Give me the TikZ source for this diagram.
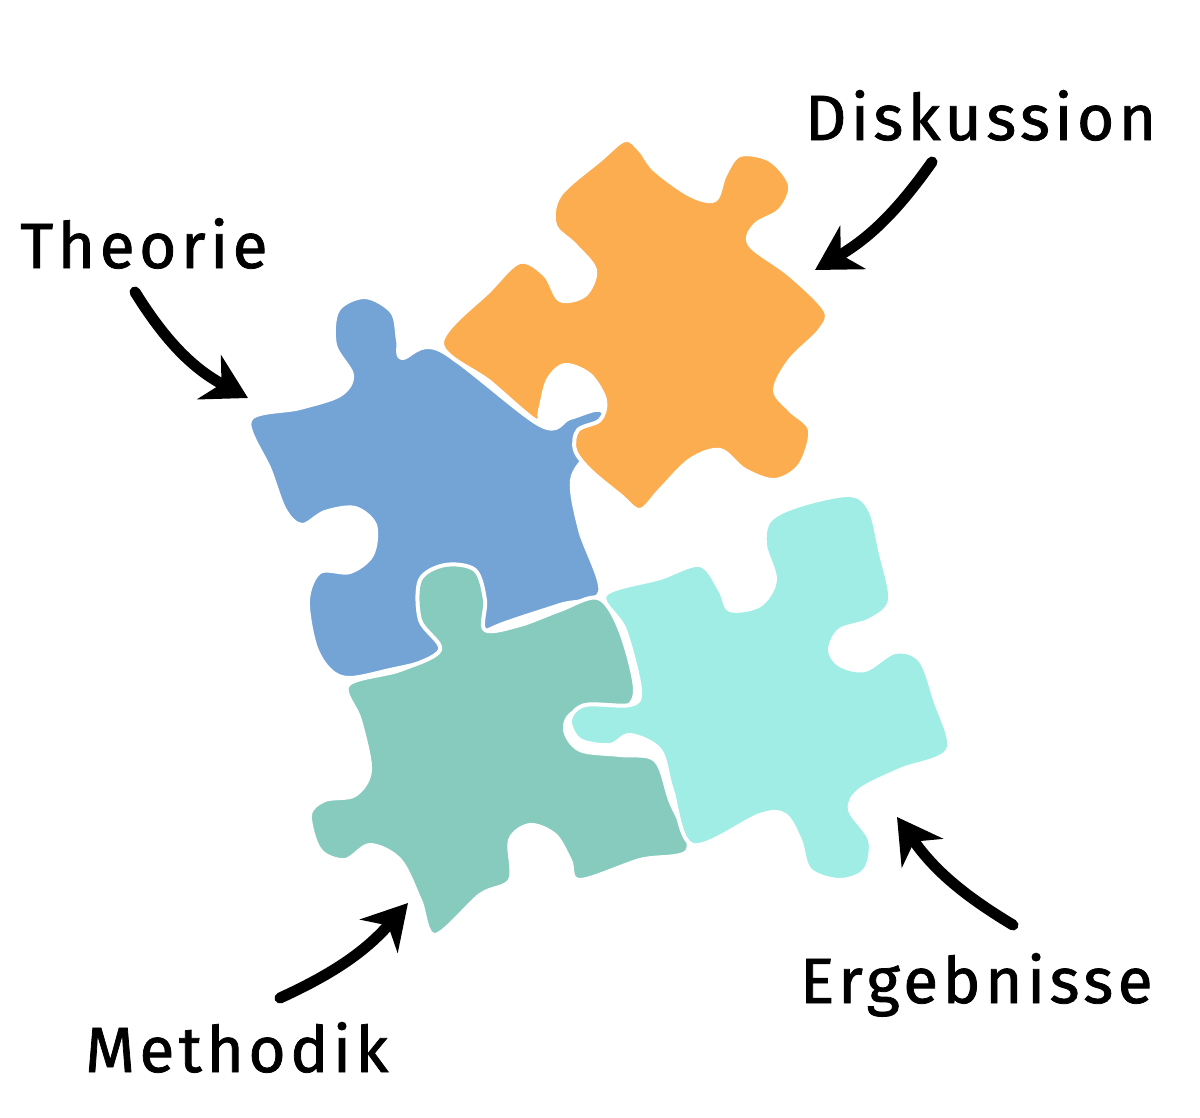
\documentclass[tikz,border=0pt]{standalone}
\usepackage{fontspec}
\setmainfont{Fira Sans}[LetterSpace=7,FakeBold=1.2]
\usetikzlibrary{arrows.meta}
\definecolor{orangepiece}{HTML}{FBAD4F}
\definecolor{bluepiece}{HTML}{74A3D6}
\definecolor{greenpiece}{HTML}{87CBBF}
\definecolor{cyanpiece}{HTML}{A0EDE6}
\begin{document}
\begin{tikzpicture}[x=1pt,y=-1pt,
    piece/.style={draw=white, line width=4pt, line join=round},
    pointer/.style={line width=11pt, line cap=round, -{Stealth[length=44pt,width=50pt,inset=14pt]}},
    label/.style={font=\fontsize{64}{64}\selectfont, inner sep=0pt, anchor=base west}]
    \useasboundingbox (0,0) rectangle (1200,1117);

    % puzzle pieces
    \fill[piece, fill=bluepiece] plot[smooth cycle, tension=0.55] coordinates {
        (250,420) (300,408) (340,395) (352,375) (335,345) (338,310) (365,297) (392,312)
        (398,340) (402,358) (440,350) (540,425) (570,418) (600,410) (610,430) (590,452)
        (572,480) (580,530) (600,592) (560,605) (500,625) (470,640) (430,660) (390,670)
        (350,678) (330,670) (315,645) (308,600) (320,572) (350,572) (372,555) (375,525)
        (355,508) (325,512) (302,525) (285,510) (270,470)};
    \fill[piece, fill=orangepiece] plot[smooth cycle, tension=0.55] coordinates {
        (442,343) (490,290) (520,262) (545,275) (560,300) (585,295) (595,270) (575,245)
        (555,225) (560,195) (600,160) (625,140) (640,150) (655,170) (690,195) (715,200)
        (725,175) (740,155) (770,160) (790,185) (780,210) (755,225) (750,245) (790,275)
        (825,310) (820,330) (790,360) (775,390) (790,410) (810,430) (800,465) (775,480)
        (745,470) (720,450) (690,460) (660,490) (640,510) (620,495) (590,470) (575,450)
        (578,430) (600,420) (605,400) (590,375) (565,365) (548,380) (540,410) (535,420)
        (490,382)};
    \fill[piece, fill=greenpiece] plot[smooth cycle, tension=0.55] coordinates {
        (348,685) (400,670) (440,650) (420,620) (420,580) (445,565) (475,570) (485,600)
        (485,630) (520,625) (560,610) (598,598) (620,630) (635,690) (620,710) (575,712)
        (565,730) (580,750) (620,755) (655,760) (670,800) (688,850) (640,860) (580,880)
        (570,860) (555,835) (530,825) (510,840) (510,880) (480,895) (435,935) (420,900)
        (400,860) (370,845) (345,860) (320,850) (310,815) (325,800) (355,795) (370,770)
        (360,720)};
    \fill[piece, fill=cyanpiece] plot[smooth cycle, tension=0.55] coordinates {
        (605,595) (660,578) (700,565) (720,590) (730,610) (760,605) (775,580) (765,545)
        (770,520) (800,505) (850,495) (870,510) (880,550) (890,600) (870,620) (840,630)
        (830,650) (840,665) (865,670) (895,652) (920,660) (935,700) (948,750) (900,770)
        (860,790) (850,810) (870,840) (865,870) (840,880) (810,870) (800,840) (785,815)
        (760,815) (693,845) (672,790) (660,750) (630,735) (610,745) (580,740) (570,720)
        (585,705) (630,705) (640,690) (625,630)};

    % labels
    \node[label] (theorie) at (20,268) {Theorie};
    \node[label] (diskussion) at (805,140) {Diskussion};
    \node[label] (methodik) at (85,1072) {Methodik};
    \node[label] (ergebnisse) at (800,1003) {Ergebnisse};

    \coordinate (theorieTip) at (248,398);
    \coordinate (diskussionTip) at (815,270);
    \coordinate (methodikTip) at (408,903);
    \coordinate (ergebnisseTip) at (897,817);

    % arrows
    \draw[pointer] (135,292) to[bend right=15] (theorieTip);
    \draw[pointer] (932,162) to[bend left=12] (diskussionTip);
    \draw[pointer] (280,998) to[bend right=12] (methodikTip);
    \draw[pointer] (1013,925) to[bend left=12] (ergebnisseTip);
\end{tikzpicture}
\end{document}
